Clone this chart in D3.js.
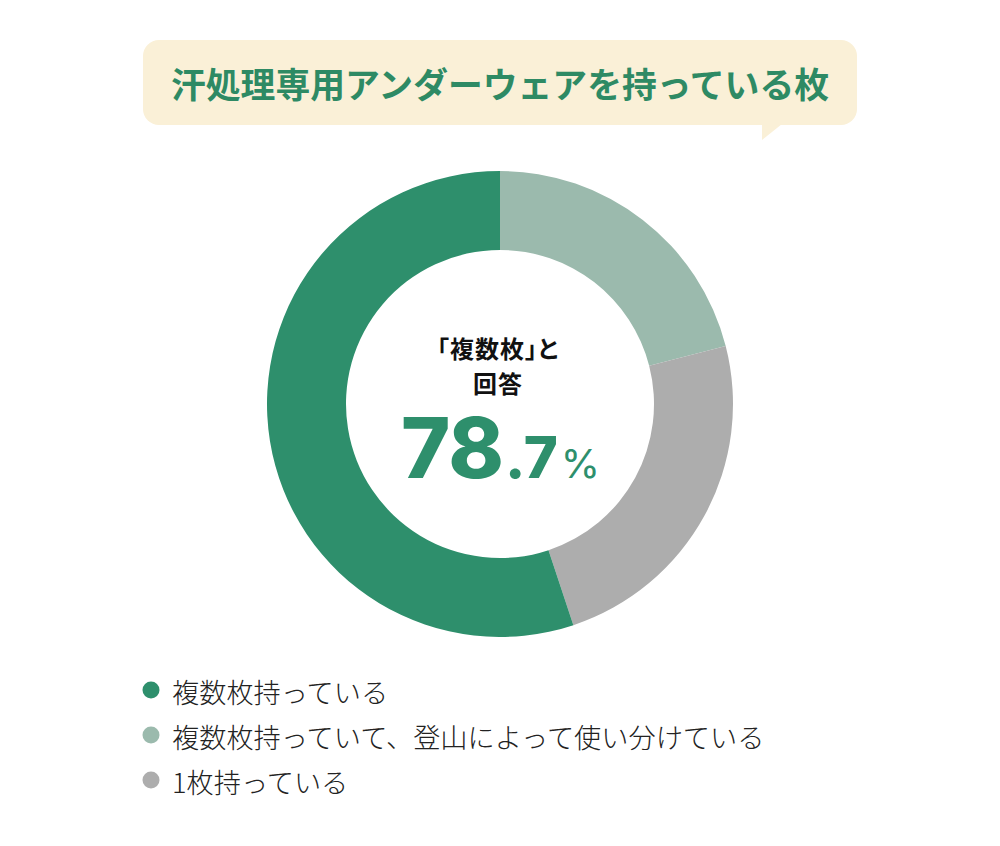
<!DOCTYPE html>
<html>
<head>
<meta charset="utf-8">
<script src="https://cdn.jsdelivr.net/npm/d3@7"></script>
<style>
  body { margin: 0; background: #fff; }
  svg { display: block; }
</style>
</head>
<body>
<svg id="chart" width="1000" height="846"></svg>
<script>
// values (share of respondents, %)
let categories = ["複数枚持っている", "複数枚持っていて、登山によって使い分けている", "1枚持っている"];
let values = [55.1, 21.0, 23.9];
let colors = ["#2e8f6c", "#9bbaad", "#adadad"];
// slices are laid out clockwise from 12 o'clock in this order
let drawOrder = [1, 2, 0];

let titleText = "汗処理専用アンダーウェアを持っている枚";
let centerLines = ["「複数枚」と", "回答"];
let headline = ["78", ".7", "%"];

let svg = d3.select("#chart");
let jp = "'Noto Sans CJK JP', 'Noto Sans', sans-serif";

// title bubble
let bubble = svg.append("g");
bubble.append("rect")
    .attr("x", 143).attr("y", 40)
    .attr("width", 714).attr("height", 85)
    .attr("rx", 16).attr("ry", 16)
    .attr("fill", "#faf0d7");
bubble.append("path")
    .attr("d", "M 762,124 L 762,140 L 782,124 Z")
    .attr("fill", "#faf0d7");
bubble.append("text")
    .text(titleText)
    .attr("x", 500).attr("y", 83)
    .attr("text-anchor", "middle")
    .attr("dominant-baseline", "central")
    .style("font-family", jp)
    .style("font-weight", "bold")
    .style("font-size", "34.8px")
    .attr("fill", "#2e8a64");

// donut
let cx = 500, cy = 404;
let outerR = 233, innerR = 154;

let pie = d3.pie().sort(null).value(i => values[i]);
let arc = d3.arc().innerRadius(innerR).outerRadius(outerR);

let g = svg.append("g")
    .attr("transform", "translate(" + cx + "," + cy + ")");

g.selectAll("path.slice")
    .data(pie(drawOrder))
    .enter().append("path")
    .attr("class", "slice")
    .attr("d", arc)
    .attr("fill", d => colors[d.data]);

// centre label
g.selectAll("text.cl")
    .data(centerLines)
    .enter().append("text")
    .attr("class", "cl")
    .text(d => d)
    .attr("x", -2)
    .attr("y", (d, i) => -57 + i * 35)
    .attr("text-anchor", "middle")
    .attr("dominant-baseline", "central")
    .style("font-family", jp)
    .style("font-weight", "bold")
    .style("font-size", "24px")
    .style("font-feature-settings", "'palt'")
    .attr("letter-spacing", "1px")
    .attr("fill", "#111");

let big = g.append("text")
    .attr("x", -99)
    .attr("y", 74)
    .style("font-family", "Inter, 'Open Sans', sans-serif")
    .attr("fill", "#2e8f6c");
big.append("tspan").text(headline[0])
    .style("font-size", "84px").style("font-weight", 800)
    .attr("letter-spacing", "-1px");
big.append("tspan").text(headline[1])
    .style("font-size", "58px").style("font-weight", 800)
    .attr("dx", 2);
big.append("tspan").text(headline[2])
    .style("font-size", "40px").style("font-weight", 400)
    .attr("dx", 3);

// legend
let legend = svg.append("g")
    .attr("transform", "translate(151,690)");
let items = legend.selectAll("g.item")
    .data(categories)
    .enter().append("g")
    .attr("class", "item")
    .attr("transform", (d, i) => "translate(0," + (i * 45) + ")");
items.append("circle")
    .attr("r", 8.5)
    .attr("fill", (d, i) => colors[i]);
items.append("text")
    .text(d => d)
    .attr("x", 21)
    .attr("y", 1)
    .attr("dominant-baseline", "central")
    .style("font-family", jp)
    .style("font-size", "27.2px")
    .style("font-weight", 300)
    .attr("fill", "#222");
</script>
</body>
</html>
